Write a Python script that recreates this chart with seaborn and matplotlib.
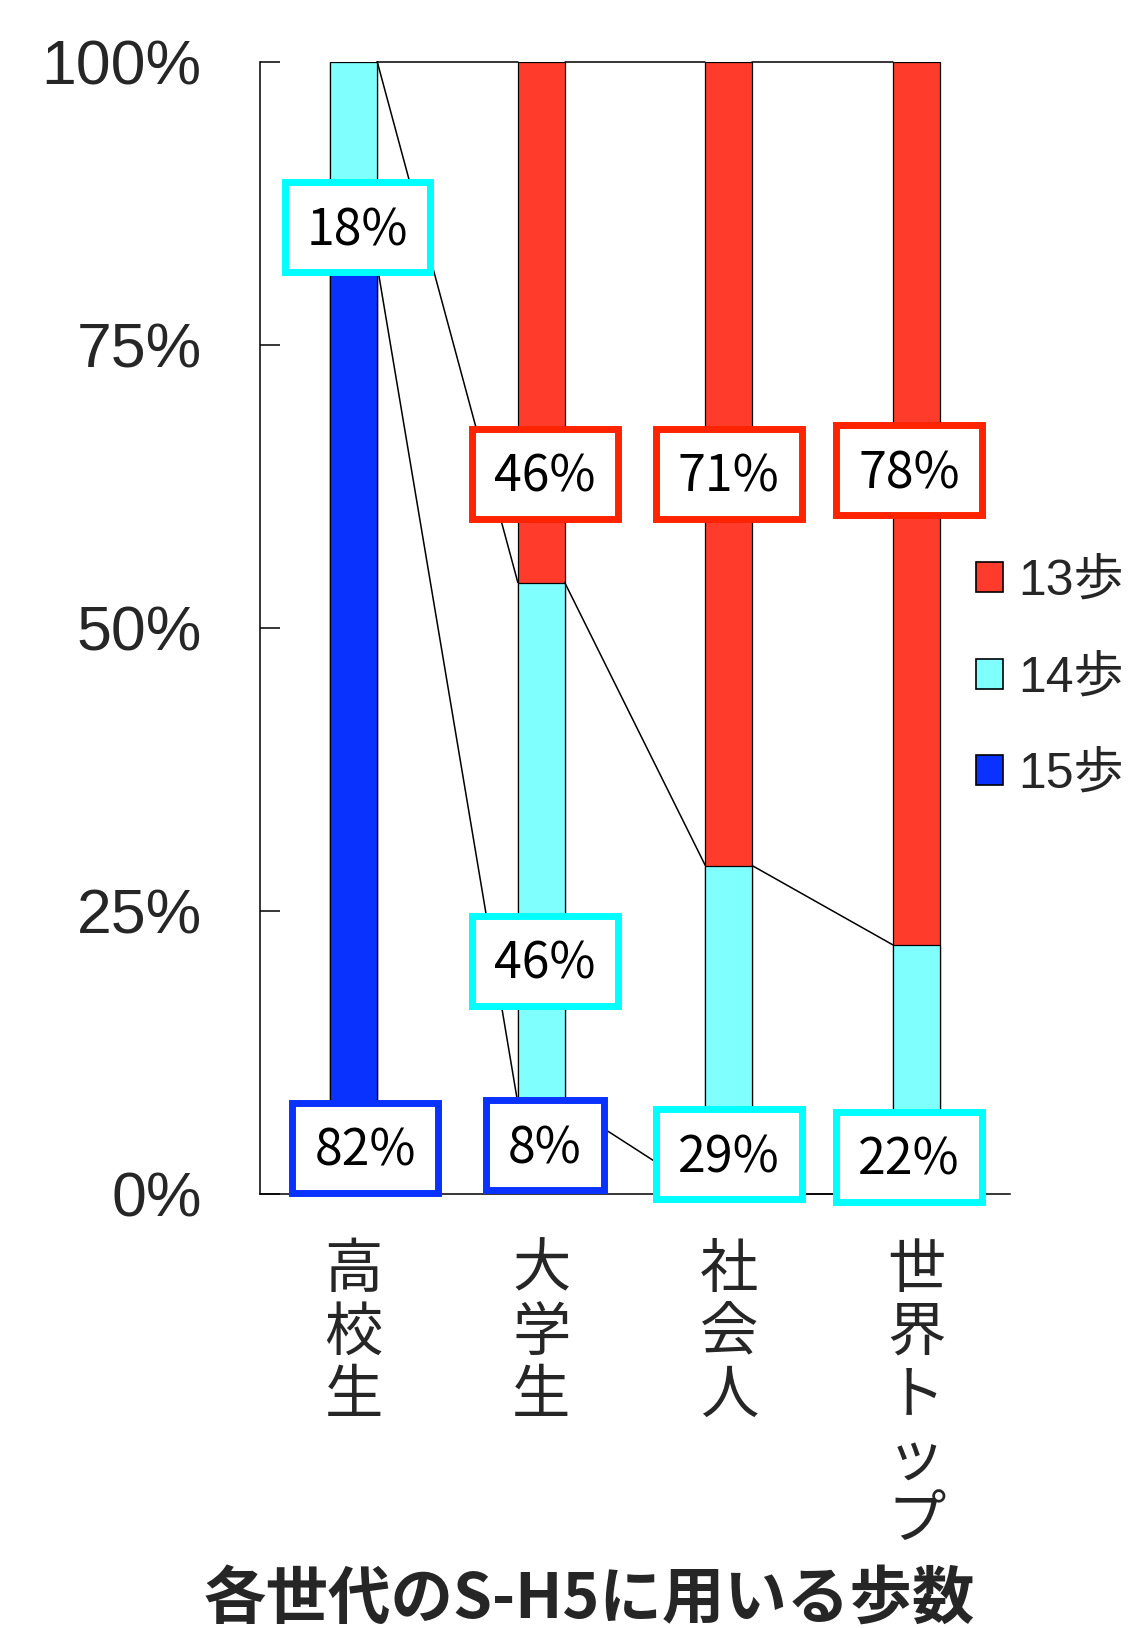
import matplotlib
matplotlib.use("Agg")
import numpy as np
import pandas as pd
import matplotlib.pyplot as plt
import seaborn as sns
from matplotlib.patches import Patch, Rectangle
from matplotlib.font_manager import FontProperties
from matplotlib.transforms import IdentityTransform

# ---- data -------------------------------------------------------------
categories = ["高校生", "大学生", "社会人", "世界トップ"]
steps13 = [0, 46, 71, 78]
steps14 = [18, 46, 29, 22]
steps15 = [82, 8, 0, 0]
series_names = ["13歩", "14歩", "15歩"]
y_ticks = [0, 25, 50, 75, 100]
y_tick_labels = ["0%", "25%", "50%", "75%", "100%"]
title = "各世代のS-H5に用いる歩数"

# ---- style ------------------------------------------------------------
bar_colors = {"13歩": "#FF3C2C", "14歩": "#80FFFF", "15歩": "#0A32FF"}
box_colors = {"13歩": "#FF2400", "14歩": "#00FFFF", "15歩": "#0A32FF"}
# where each value box sits: (x in category units, y in %)
label_pos = {
    "13歩": [(0.0, 0.0), (1.02, 63.6), (2.0, 63.6), (2.96, 63.9)],
    "14歩": [(0.02, 85.4), (1.02, 20.6), (2.0, 3.5), (2.96, 3.3)],
    "15歩": [(0.06, 4.1), (1.02, 4.3), (2.0, 0.0), (3.0, 0.0)],
}
BAR_W = 0.25

sns.set_theme(style="white")
plt.rcParams["font.family"] = ["Liberation Sans", "Noto Sans CJK JP"]
CJK = ["Noto Sans CJK JP", "DejaVu Sans"]

fig = plt.figure(figsize=(11.33, 16.28), dpi=100)
ax = fig.add_axes([0.2295, 0.2666, 0.662, 0.6955])

values = {"13歩": steps13, "14歩": steps14, "15歩": steps15}
tops15 = np.array(steps15, dtype=float)
tops14 = tops15 + np.array(steps14)
tops13 = tops14 + np.array(steps13)
cum = {"13歩": tops13, "14歩": tops14, "15歩": tops15}

df = pd.DataFrame({
    "category": np.tile(categories, 3),
    "series": np.repeat(series_names, len(categories)),
    "top": np.concatenate([tops13, tops14, tops15]),
})

# stacked bars: draw cumulative heights from the top series down
for name in series_names:
    sub = df[df["series"] == name]
    sns.barplot(data=sub, x="category", y="top", order=categories,
                color=bar_colors[name], saturation=1, width=BAR_W,
                edgecolor="black", linewidth=0.9, errorbar=None, ax=ax)

# series lines between neighbouring bars
for name in series_names:
    t = cum[name]
    for i in range(len(categories) - 1):
        ax.plot([i + BAR_W / 2, i + 1 - BAR_W / 2], [t[i], t[i + 1]],
                color="black", lw=1.1, zorder=3, clip_on=False)

ax.set_xlim(-0.5, 3.5)
ax.set_ylim(0, 100)
ax.set_xlabel("")
ax.set_ylabel("")
ax.set_yticks(y_ticks)
ax.set_yticklabels(y_tick_labels, fontsize=45)
ax.tick_params(axis="y", direction="in", length=14.5, width=1.1,
               color="black", pad=42, left=True)
ax.set_xticks(range(len(categories)))
ax.set_xticklabels(["\n".join(c) for c in categories], fontsize=42,
                   linespacing=1.04, va="top", family=CJK)
ax.tick_params(axis="x", length=0, pad=33)
for s in ["top", "right"]:
    ax.spines[s].set_visible(False)
for s in ["left", "bottom"]:
    ax.spines[s].set_color("black")
    ax.spines[s].set_linewidth(1.1)

# value boxes
fig.canvas.draw()
renderer = fig.canvas.get_renderer()
FS = 36
fs_px = FS * fig.dpi / 72
for name in series_names:
    for i, v in enumerate(values[name]):
        if v <= 0:
            continue
        lx, ly = label_pos[name][i]
        cx, cy = ax.transData.transform((lx, ly))
        txt = ax.text(cx, cy - 0.36 * fs_px, f"{v}%", transform=IdentityTransform(),
                      ha="center", va="baseline", fontsize=FS, family=CJK,
                      color="black", zorder=7, clip_on=False)
        tw = txt.get_window_extent(renderer).width
        w = tw + 44
        h = 90
        ax.add_patch(Rectangle((cx - w / 2, cy - h / 2), w, h,
                               transform=IdentityTransform(), facecolor="white",
                               edgecolor=box_colors[name], linewidth=5,
                               zorder=6, clip_on=False))

# legend
handles = [Patch(facecolor=bar_colors[n], edgecolor="black", linewidth=1.2)
           for n in series_names]
fig.legend(handles, series_names, loc="center left",
           bbox_to_anchor=(0.861, 0.5835), frameon=False,
           prop=FontProperties(family=["Liberation Sans", "Noto Sans CJK JP"], size=36),
           handlelength=0.55, handleheight=0.55, handletextpad=0.3,
           labelspacing=1.0, borderpad=0, borderaxespad=0)

fig.text(0.52, 0.006, title, ha="center", va="baseline", fontsize=45,
         weight="bold", family=CJK)

fig.savefig("out.png", dpi=100)
